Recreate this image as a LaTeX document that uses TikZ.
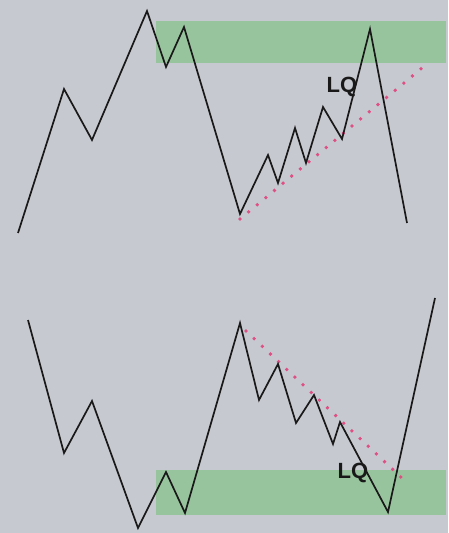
\documentclass[tikz,border=0pt]{standalone}
\usepackage{fontspec}
\setmainfont{Liberation Sans}
\usepackage{xcolor}
\usepackage{tikz}
\usetikzlibrary{positioning,calc}
\definecolor{chartbg}{HTML}{C6C9D0}
\definecolor{zonegreen}{HTML}{98C49D}
\definecolor{lqpink}{HTML}{DE4F84}

\begin{document}
\begin{tikzpicture}[
    x=0.5pt, y=-0.5pt,
    zone/.style={fill=zonegreen, draw=none},
    price/.style={draw=black!90, line width=0.85pt, line join=miter},
    trend/.style={draw=lqpink, line width=1.9pt, line cap=round, dash pattern=on 0pt off 5.6pt},
    tag/.style={font=\bfseries\fontsize{11}{12}\selectfont, text=black!90, inner sep=0pt}
]

% Background
\fill [chartbg] (0,0) rectangle (448,533);
\useasboundingbox (0,0) rectangle (448,533);

% Zones
\fill [zone] (156,21) rectangle (446,63);
\fill [zone] (156,470) rectangle (446,515);

% Top swing points
\coordinate (t1) at (18,233);
\coordinate (t2) at (64,89);
\coordinate (t3) at (92,140);
\coordinate (t4) at (147,11);
\coordinate (t5) at (166,67);
\coordinate (t6) at (184,27);
\coordinate (t7) at (240,214);
\coordinate (t8) at (268,155);
\coordinate (t9) at (278,183);
\coordinate (t10) at (295,128);
\coordinate (t11) at (306,163);
\coordinate (t12) at (323,107);
\coordinate (t13) at (342,139);
\coordinate (t14) at (370,29);
\coordinate (t15) at (407,223);

% Bottom swing points
\coordinate (b1) at (28,320);
\coordinate (b2) at (64,453);
\coordinate (b3) at (92,401);
\coordinate (b4) at (138,528);
\coordinate (b5) at (166,472);
\coordinate (b6) at (185,513);
\coordinate (b7) at (240,323);
\coordinate (b8) at (259,400);
\coordinate (b9) at (278,364);
\coordinate (b10) at (296,423);
\coordinate (b11) at (314,395);
\coordinate (b12) at (333,444);
\coordinate (b13) at (340,422);
\coordinate (b14) at (388,512);
\coordinate (b15) at (435,298);

% Trend line ends
\coordinate (tl1) at (240,219);
\coordinate (tl2) at (422,68);
\coordinate (bl1) at (246,331);
\coordinate (bl2) at (404,480);

% Trend lines
\path [trend] (tl1) -- (tl2);
\path [trend] (bl1) -- (bl2);

% Price
\draw [price] (t1) -- (t2) -- (t3) -- (t4) -- (t5) -- (t6) -- (t7) -- (t8)
    -- (t9) -- (t10) -- (t11) -- (t12) -- (t13) -- (t14) -- (t15);
\draw [price] (b1) -- (b2) -- (b3) -- (b4) -- (b5) -- (b6) -- (b7) -- (b8)
    -- (b9) -- (b10) -- (b11) -- (b12) -- (b13) -- (b14) -- (b15);

% Labels
\node [tag] (lqtop) at (342,87) {LQ};
\node [tag] (lqbot) at (353,473) {LQ};

\end{tikzpicture}
\end{document}
